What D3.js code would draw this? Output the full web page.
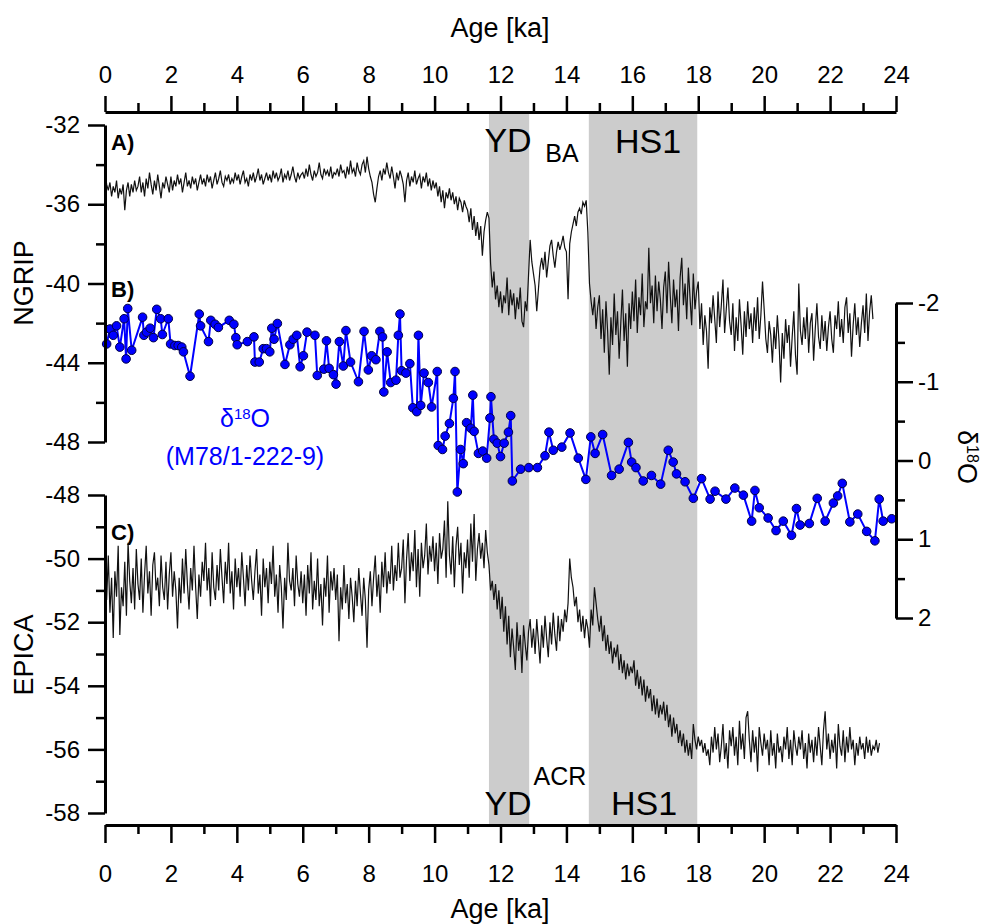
<!DOCTYPE html>
<html lang="en">
<head>
<meta charset="UTF-8">
<title>NGRIP / d18O / EPICA</title>
<script src="https://cdn.jsdelivr.net/npm/d3@7"></script>
<style>
    body { margin: 0; background: #fff; }
    svg text { font-family: "Liberation Sans", Arial, sans-serif; }
</style>
</head>
<body>
<svg id="chart" width="984" height="924"></svg>
<script>
    // tick values
    var ageTicks = [0, 2, 4, 6, 8, 10, 12, 14, 16, 18, 20, 22, 24]
    var ageMinor = [1, 3, 5, 7, 9, 11, 13, 15, 17, 19, 21, 23]
    var ngripTicks = [-32, -36, -40, -44, -48]
    var ngripMinor = [-34, -38, -42, -46]
    var epicaTicks = [-48, -50, -52, -54, -56, -58]
    var epicaMinor = [-49, -51, -53, -55, -57]
    var d18oTicks = [-2, -1, 0, 1, 2]
    var d18oMinor = [-1.5, -0.5, 0.5, 1.5]

    // shaded intervals
    var bandNames = ['YD', 'HS1']
    var bandFrom = [11.65, 14.68]
    var bandTo = [12.87, 17.97]

    // NGRIP d18O, one value every 0.05 ka from 0 ka
    var ngripStart = 0, ngripStep = 0.05
    var ngripValues = [
        -34.4,-35.0,-35.3,-34.9,-35.6,-35.1,-35.4,-34.8,-35.7,-35.2,-35.5,-35.0,-36.3,-35.3,-34.9,-35.6,-35.0,-35.4,-34.8,-35.3,
        -35.1,-34.6,-35.4,-34.9,-35.6,-34.7,-35.2,-34.4,-35.0,-35.5,-34.8,-35.3,-34.5,-35.1,-35.7,-34.9,-35.2,-34.6,-35.0,-35.4,
        -34.6,-35.3,-34.8,-35.1,-34.5,-35.0,-34.7,-35.4,-34.9,-34.4,-35.1,-34.8,-35.2,-34.6,-35.0,-34.7,-35.3,-34.9,-34.5,-35.0,
        -34.7,-35.1,-34.5,-34.9,-34.6,-35.2,-34.8,-34.4,-35.0,-34.7,-34.3,-34.9,-35.1,-34.6,-34.8,-34.5,-35.0,-34.7,-34.9,-34.4,
        -34.8,-34.5,-35.0,-34.6,-34.3,-34.9,-34.7,-35.1,-34.5,-34.8,-34.4,-34.9,-34.6,-34.2,-34.8,-34.5,-35.0,-34.7,-34.4,-34.8,
        -34.5,-34.9,-34.3,-34.7,-34.4,-34.8,-34.6,-34.2,-34.9,-34.5,-34.7,-34.3,-34.8,-34.5,-34.1,-34.6,-34.9,-34.4,-34.7,-34.5,
        -34.4,-34.7,-34.2,-34.6,-34.0,-34.5,-34.8,-34.3,-34.6,-34.4,-33.9,-34.5,-34.7,-34.2,-34.5,-34.3,-34.6,-34.1,-34.7,-34.4,
        -34.5,-34.2,-34.6,-34.0,-34.4,-34.3,-34.7,-34.1,-34.5,-33.8,-34.4,-34.2,-34.6,-33.9,-34.3,-34.5,-34.0,-33.8,-34.4,-33.6,
        -34.2,-34.6,-34.9,-35.5,-35.9,-35.2,-34.6,-34.3,-34.8,-34.2,-34.5,-33.9,-34.4,-34.7,-34.1,-34.6,-35.2,-34.4,-34.8,-34.3,
        -34.6,-35.0,-35.9,-34.8,-34.4,-35.1,-34.6,-34.9,-34.3,-35.0,-34.7,-34.5,-35.2,-34.6,-34.9,-34.4,-35.1,-34.7,-35.3,-34.8,
        -35.2,-34.9,-35.6,-35.1,-35.9,-35.3,-36.2,-35.4,-35.7,-35.2,-35.8,-35.4,-36.0,-35.6,-36.3,-35.7,-35.9,-36.4,-35.8,-36.1,
        -36.3,-36.9,-36.2,-37.3,-36.6,-37.6,-36.9,-37.8,-37.1,-38.6,-37.4,-36.8,-36.4,-36.7,-39.0,-40.2,-39.4,-40.8,-40.1,-41.2,
        -40.4,-41.5,-40.6,-41.0,-39.7,-41.6,-40.3,-41.1,-40.5,-41.8,-40.7,-41.3,-40.2,-41.9,-42.2,-40.9,-41.4,-39.6,-37.8,-38.9,
        -39.5,-40.1,-41.4,-40.3,-39.2,-38.7,-39.3,-38.4,-39.7,-38.9,-38.1,-37.8,-38.6,-39.2,-38.4,-37.9,-38.3,-38.0,-37.6,-38.2,
        -38.4,-40.8,-38.0,-37.4,-37.0,-36.6,-37.1,-36.4,-36.2,-36.5,-35.9,-36.1,-35.8,-37.4,-40.0,-40.9,-41.6,-40.7,-42.3,-41.2,
        -40.6,-42.8,-41.3,-43.5,-40.9,-42.4,-44.6,-41.7,-43.1,-40.5,-42.6,-41.4,-43.8,-42.0,-40.3,-42.9,-41.5,-44.2,-41.0,-42.3,
        -40.4,-41.9,-39.8,-42.5,-40.7,-41.6,-39.5,-42.2,-40.9,-41.3,-38.2,-41.0,-40.1,-42.0,-39.6,-41.4,-39.9,-40.8,-42.3,-40.2,
        -39.4,-41.5,-38.9,-40.6,-42.0,-39.8,-41.2,-40.3,-42.4,-39.7,-38.7,-41.1,-40.0,-41.8,-39.2,-40.7,-42.1,-39.5,-41.3,-40.4,
        -39.9,-42.3,-41.0,-43.1,-41.6,-42.4,-44.3,-41.2,-42.0,-40.6,-41.8,-43.0,-40.4,-42.2,-41.1,-39.8,-42.5,-41.3,-40.2,-41.9,
        -42.6,-41.0,-43.4,-41.7,-42.9,-40.8,-42.1,-43.6,-41.4,-42.7,-40.9,-42.3,-41.5,-43.0,-41.2,-42.4,-40.7,-42.8,-41.6,-39.9,
        -41.3,-42.8,-43.5,-41.9,-42.6,-44.0,-42.2,-43.3,-41.6,-42.9,-45.0,-42.5,-43.8,-41.8,-43.0,-42.1,-44.2,-42.7,-41.4,-43.6,
        -44.6,-40.0,-42.4,-43.1,-41.7,-42.8,-41.2,-43.5,-42.0,-41.5,-43.9,-42.3,-41.0,-42.7,-43.3,-41.6,-42.9,-41.9,-43.4,-42.2,
        -41.4,-42.8,-43.5,-41.6,-42.3,-40.9,-42.7,-41.8,-43.0,-41.2,-40.7,-42.5,-41.5,-43.7,-42.1,-41.0,-42.6,-41.7,-43.2,-42.0,
        -41.1,-42.5,-40.5,-42.9,-41.4,-40.6,-41.8
    ]

    // EPICA dD, one value every 0.05 ka from 0 ka
    var epicaStart = 0, epicaStep = 0.05
    var epicaValues = [
        -50.2,-51.3,-49.9,-51.7,-50.6,-52.5,-50.4,-51.2,-49.6,-52.4,-50.9,-51.5,-50.1,-51.8,-49.5,-50.7,-51.4,-50.3,-51.6,-49.7,
        -50.8,-51.3,-50.0,-51.7,-50.5,-49.6,-51.1,-50.4,-51.8,-50.2,-49.8,-51.0,-50.6,-51.5,-49.9,-50.9,-51.3,-50.1,-51.6,-50.5,
        -49.8,-51.2,-50.4,-51.0,-52.2,-50.6,-51.4,-50.0,-51.1,-49.7,-50.8,-51.6,-50.3,-51.0,-49.6,-50.9,-51.9,-50.5,-51.2,-50.1,
        -50.7,-49.5,-51.0,-50.3,-51.5,-49.8,-50.9,-51.3,-50.2,-51.0,-49.7,-50.6,-51.4,-50.1,-50.8,-49.5,-51.1,-50.4,-51.6,-50.0,
        -50.9,-50.3,-51.2,-49.8,-50.6,-51.5,-50.2,-51.0,-49.9,-50.7,-51.3,-50.4,-49.7,-51.1,-50.5,-51.8,-50.0,-50.9,-50.3,-51.4,
        -50.1,-50.8,-49.6,-51.2,-50.5,-51.7,-50.2,-50.9,-52.2,-50.6,-51.3,-49.5,-50.7,-51.0,-50.3,-51.5,-49.9,-50.8,-51.2,-50.4,
        -51.4,-50.5,-51.8,-50.2,-51.1,-49.8,-51.6,-50.7,-51.3,-50.0,-51.5,-50.8,-52.1,-50.6,-51.2,-49.9,-51.7,-50.4,-51.0,-50.3,
        -51.3,-50.5,-52.6,-50.9,-51.6,-50.2,-51.4,-50.8,-51.9,-50.6,-51.2,-52.0,-50.7,-51.5,-50.3,-51.1,-51.8,-50.6,-51.3,-52.8,
        -51.0,-50.4,-51.5,-50.6,-49.9,-51.2,-50.5,-51.7,-50.1,-50.9,-49.8,-51.1,-50.4,-50.8,-49.6,-51.0,-50.2,-50.7,-49.5,-50.6,
        -50.3,-49.4,-51.4,-50.0,-49.2,-50.7,-49.8,-50.4,-49.1,-50.9,-49.7,-51.2,-49.5,-50.3,-49.9,-48.9,-50.5,-49.6,-50.1,-49.3,
        -50.4,-49.5,-50.8,-49.2,-50.0,-49.7,-48.8,-50.6,-48.2,-49.9,-50.5,-49.3,-50.9,-49.6,-49.0,-50.2,-49.5,-51.1,-49.8,-50.3,
        -49.4,-50.6,-48.9,-50.1,-48.6,-50.7,-49.7,-49.2,-50.0,-49.5,-50.3,-49.1,-49.8,-50.2,-51.0,-50.7,-51.3,-50.8,-51.6,-51.0,
        -51.9,-51.2,-52.3,-51.5,-52.7,-51.8,-53.1,-52.2,-52.8,-53.5,-52.0,-52.9,-52.4,-53.6,-52.1,-52.7,-53.2,-52.3,-51.9,-52.8,
        -52.2,-53.0,-51.9,-52.6,-53.3,-52.1,-52.8,-51.8,-52.5,-53.1,-52.0,-52.7,-51.7,-52.4,-52.9,-51.8,-52.6,-51.9,-52.3,-51.6,
        -52.0,-51.4,-50.0,-50.6,-50.9,-51.5,-51.2,-52.0,-51.6,-52.3,-51.8,-52.5,-51.9,-52.2,-52.8,-51.6,-52.1,-50.9,-51.4,-51.9,
        -52.3,-51.8,-52.6,-52.1,-52.9,-52.4,-53.0,-52.6,-53.3,-52.8,-53.1,-52.7,-53.5,-53.0,-53.6,-53.2,-53.8,-53.3,-53.7,-53.4,
        -53.6,-53.2,-54.0,-53.5,-54.1,-53.7,-54.3,-53.8,-54.5,-54.0,-54.4,-54.1,-54.8,-54.3,-54.9,-54.4,-55.0,-54.6,-54.9,-54.5,
        -55.1,-54.6,-55.3,-54.9,-55.6,-55.0,-55.5,-55.2,-55.8,-55.4,-55.9,-55.5,-56.1,-55.7,-56.2,-55.8,-56.3,-55.2,-55.7,-56.0,
        -55.6,-55.9,-55.7,-56.1,-55.8,-56.2,-56.0,-56.5,-55.6,-56.1,-55.3,-56.0,-55.5,-56.4,-55.9,-55.2,-56.3,-55.8,-56.6,-55.4,
        -55.9,-55.3,-56.2,-55.6,-56.5,-55.1,-56.0,-55.5,-56.3,-55.0,-54.8,-55.7,-56.4,-55.4,-56.1,-55.6,-56.7,-55.3,-55.8,-56.2,
        -55.5,-56.0,-55.7,-56.5,-55.4,-56.2,-55.8,-56.6,-55.5,-56.1,-55.9,-56.4,-55.6,-56.0,-55.3,-56.3,-55.7,-56.5,-55.4,-55.9,
        -56.2,-55.6,-56.0,-55.4,-56.3,-55.8,-56.6,-55.5,-56.1,-55.7,-56.4,-55.6,-56.2,-55.3,-55.9,-56.5,-55.4,-54.8,-56.0,-55.5,
        -56.3,-55.7,-56.1,-55.5,-56.6,-55.2,-55.9,-56.2,-55.4,-56.4,-55.6,-56.1,-55.3,-56.0,-55.7,-56.5,-55.8,-56.2,-55.6,-56.0,
        -55.8,-56.3,-55.6,-56.1,-55.7,-56.2,-55.9,-56.0,-55.7,-56.1,-55.8
    ]

    // benthic d18O, core M78/1-222-9
    var d18oAge = [
        0.05,0.15,0.25,0.35,0.45,0.58,0.64,0.69,0.81,1.14,1.18,1.26,1.37,1.47,1.57,1.69,1.74,1.92,1.99,2.12,
        2.22,2.33,2.38,2.58,2.86,2.90,3.14,3.21,3.34,3.44,3.77,3.91,3.97,4.01,4.32,4.52,4.55,4.68,4.80,4.90,
        5.00,5.06,5.13,5.23,5.46,5.61,5.71,5.82,5.92,6.02,6.13,6.37,6.44,6.64,6.72,6.80,6.93,7.01,7.11,7.23,
        7.31,7.45,7.69,7.86,7.99,8.09,8.22,8.34,8.42,8.46,8.56,8.67,8.83,8.90,8.95,9.00,9.13,9.25,9.34,9.46,
        9.51,9.58,9.68,9.81,9.91,10.08,10.11,10.24,10.32,10.45,10.57,10.62,10.69,10.79,10.87,10.97,11.10,11.16,11.20,11.33,
        11.46,11.58,11.68,11.71,11.80,11.90,12.00,12.11,12.24,12.31,12.36,12.61,12.86,13.12,13.35,13.47,13.60,13.86,14.11,14.36,
        14.59,14.74,14.87,15.10,15.37,15.60,15.88,15.98,16.11,16.33,16.58,16.86,17.09,17.24,17.34,17.60,17.85,18.10,18.36,18.51,
        18.84,19.11,19.37,19.62,19.72,19.85,20.12,20.36,20.58,20.83,20.98,21.09,21.37,21.61,21.85,22.10,22.23,22.37,22.60,22.84,
        23.11,23.36,23.49,23.61,23.87
    ]
    var d18oValue = [
        -1.48,-1.67,-1.59,-1.71,-1.44,-1.80,-1.29,-1.93,-1.40,-1.82,-1.59,-1.63,-1.68,-1.56,-1.92,-1.80,-1.60,-1.80,-1.48,-1.46,
        -1.46,-1.44,-1.38,-1.07,-1.86,-1.71,-1.51,-1.78,-1.73,-1.69,-1.78,-1.73,-1.56,-1.47,-1.51,-1.57,-1.25,-1.25,-1.42,-1.42,
        -1.38,-1.68,-1.54,-1.74,-1.22,-1.47,-1.54,-1.59,-1.19,-1.33,-1.63,-1.59,-1.08,-1.16,-1.52,-1.17,-1.09,-0.97,-1.51,-1.20,
        -1.65,-1.25,-1.00,-1.64,-1.15,-1.33,-1.28,-1.64,-1.57,-0.87,-1.38,-0.99,-1.02,-1.59,-1.86,-1.14,-1.11,-1.23,-0.67,-0.62,
        -1.59,-0.70,-1.11,-0.99,-0.68,-1.13,-0.19,-0.14,-0.31,-0.47,-0.79,-1.13,0.40,-0.14,0.04,-0.48,-0.41,-0.83,-0.37,-0.09,
        -0.12,-0.03,-0.54,-0.81,-0.27,-0.22,-0.05,-0.22,-0.36,-0.57,0.26,0.11,0.09,0.09,-0.06,-0.36,-0.13,-0.17,-0.35,-0.03,
        0.24,-0.30,-0.09,-0.33,0.19,0.11,-0.23,0.02,0.09,0.26,0.19,0.30,-0.13,0.02,0.17,0.27,0.48,0.23,0.49,0.39,
        0.49,0.35,0.44,0.77,0.38,0.60,0.73,0.89,0.77,0.95,0.61,0.82,0.80,0.48,0.77,0.54,0.45,0.29,0.78,0.68,
        0.90,1.02,0.49,0.77,0.74
    ]

    var x = d3.scaleLinear().domain([0, 24]).range([105, 896])
    var yNgrip = d3.scaleLinear().domain([-32, -48]).range([125, 442])
    var yD18o = d3.scaleLinear().domain([-2, 2]).range([303, 618])
    var yEpica = d3.scaleLinear().domain([-48, -58]).range([495, 813])

    var svg = d3.select('#chart')
    var tickFont = 24
    var plain = function(d) { return String(d) }   // hyphen minus, no decimals

    // shaded bands
    svg.selectAll('rect.band')
        .data(bandNames)
        .enter().append('rect')
        .attr('class', 'band')
        .attr('x', function(d, i) { return x(bandFrom[i]) })
        .attr('width', function(d, i) { return x(bandTo[i]) - x(bandFrom[i]) })
        .attr('y', 112)
        .attr('height', 825 - 112)
        .style('fill', '#cccccc')

    // NGRIP and EPICA curves
    var ngripLine = d3.line()
        .x(function(d, i) { return x(ngripStart + i * ngripStep) })
        .y(function(d) { return yNgrip(d) })
    svg.append('path')
        .datum(ngripValues)
        .attr('d', ngripLine)
        .style('fill', 'none')
        .style('stroke', '#111')
        .style('stroke-width', 1.2)

    var epicaLine = d3.line()
        .x(function(d, i) { return x(epicaStart + i * epicaStep) })
        .y(function(d) { return yEpica(d) })
    svg.append('path')
        .datum(epicaValues)
        .attr('d', epicaLine)
        .style('fill', 'none')
        .style('stroke', '#111')
        .style('stroke-width', 1.2)

    // blue d18O series with markers
    var d18oLine = d3.line()
        .x(function(d, i) { return x(d18oAge[i]) })
        .y(function(d) { return yD18o(d) })
    svg.append('path')
        .datum(d18oValue)
        .attr('d', d18oLine)
        .style('fill', 'none')
        .style('stroke', '#0000ff')
        .style('stroke-width', 2)
    svg.selectAll('circle.pt')
        .data(d18oValue)
        .enter().append('circle')
        .attr('class', 'pt')
        .attr('cx', function(d, i) { return x(d18oAge[i]) })
        .attr('cy', function(d) { return yD18o(d) })
        .attr('r', 4.3)
        .style('fill', '#0000ff')
        .style('stroke', '#000044')
        .style('stroke-width', 1)

    // axes
    function styleAxis(g) {
        g.select('.domain').style('stroke', '#000').style('stroke-width', 3)
        g.selectAll('.tick line').style('stroke', '#000').style('stroke-width', 2.5)
        g.selectAll('text').style('font-size', tickFont + 'px').style('fill', '#000')
            .style('font-family', '"Liberation Sans", Arial, sans-serif')
    }

    // top age axis
    var topG = svg.append('g').attr('transform', 'translate(0,112)')
    topG.call(d3.axisTop(x).tickValues(ageTicks).tickFormat(plain).tickSize(16).tickSizeOuter(0).tickPadding(13))
    topG.append('g').call(d3.axisTop(x).tickValues(ageMinor).tickSize(9).tickFormat(''))
        .select('.domain').remove()
    styleAxis(topG)

    // bottom age axis
    var botG = svg.append('g').attr('transform', 'translate(0,825)')
    botG.call(d3.axisBottom(x).tickValues(ageTicks).tickFormat(plain).tickSize(18).tickSizeOuter(0).tickPadding(22))
    botG.append('g').call(d3.axisBottom(x).tickValues(ageMinor).tickSize(9).tickFormat(''))
        .select('.domain').remove()
    styleAxis(botG)

    // NGRIP axis
    var ngG = svg.append('g').attr('transform', 'translate(105,0)')
    ngG.call(d3.axisLeft(yNgrip).tickValues(ngripTicks).tickFormat(plain).tickSize(17).tickSizeOuter(0).tickPadding(8))
    ngG.append('g').call(d3.axisLeft(yNgrip).tickValues(ngripMinor).tickSize(9).tickFormat(''))
        .select('.domain').remove()
    styleAxis(ngG)

    // EPICA axis
    var epG = svg.append('g').attr('transform', 'translate(105,0)')
    epG.call(d3.axisLeft(yEpica).tickValues(epicaTicks).tickFormat(plain).tickSize(17).tickSizeOuter(0).tickPadding(8))
    epG.append('g').call(d3.axisLeft(yEpica).tickValues(epicaMinor).tickSize(9).tickFormat(''))
        .select('.domain').remove()
    styleAxis(epG)

    // d18O axis on the right
    var dG = svg.append('g').attr('transform', 'translate(896,0)')
    dG.call(d3.axisRight(yD18o).tickValues(d18oTicks).tickFormat(plain).tickSize(17).tickSizeOuter(0).tickPadding(5))
    dG.append('g').call(d3.axisRight(yD18o).tickValues(d18oMinor).tickSize(9).tickFormat(''))
        .select('.domain').remove()
    styleAxis(dG)

    // axis titles
    svg.append('text').attr('x', 500).attr('y', 37)
        .style('text-anchor', 'middle').style('font-size', '27px').text('Age [ka]')
    svg.append('text').attr('x', 500).attr('y', 918)
        .style('text-anchor', 'middle').style('font-size', '27px').text('Age [ka]')
    svg.append('text').attr('transform', 'translate(33,283) rotate(-90)')
        .style('text-anchor', 'middle').style('font-size', '27px').text('NGRIP')
    svg.append('text').attr('transform', 'translate(33,655) rotate(-90)')
        .style('text-anchor', 'middle').style('font-size', '27px').text('EPICA')

    var rightTitle = svg.append('text').attr('transform', 'translate(958,457) rotate(90)')
        .style('text-anchor', 'middle').style('font-size', '27px')
    rightTitle.append('tspan').text('δ')
    rightTitle.append('tspan').attr('dy', '-0.55em').style('font-size', '16px').text('18')
    rightTitle.append('tspan').attr('dy', '0.33em').text('O')

    // panel letters
    var panelText = ['A)', 'B)', 'C)']
    var panelY = [150, 297, 540]
    svg.selectAll('text.panel')
        .data(panelText)
        .enter().append('text')
        .attr('class', 'panel')
        .attr('x', 111)
        .attr('y', function(d, i) { return panelY[i] })
        .style('font-size', '22px').style('font-weight', 'bold')
        .text(function(d) { return d })

    // event labels
    function label(txt, px, py, size) {
        svg.append('text').attr('x', px).attr('y', py)
            .style('text-anchor', 'middle').style('font-size', size + 'px').text(txt)
    }
    label('YD', 508, 152, 34)
    label('BA', 562, 162, 25)
    label('HS1', 648, 153, 34)
    label('YD', 508, 815, 34)
    label('ACR', 560, 785, 25)
    label('HS1', 644, 815, 34)

    // blue series label
    var bl = svg.append('text').attr('x', 245).attr('y', 427)
        .style('text-anchor', 'middle').style('font-size', '25px').style('fill', '#0000ff')
    bl.append('tspan').text('δ')
    bl.append('tspan').attr('dy', '-0.55em').style('font-size', '15px').text('18')
    bl.append('tspan').attr('dy', '0.33em').text('O')
    svg.append('text').attr('x', 245).attr('y', 465)
        .style('text-anchor', 'middle').style('font-size', '25px').style('fill', '#0000ff')
        .text('(M78/1-222-9)')
</script>
</body>
</html>
